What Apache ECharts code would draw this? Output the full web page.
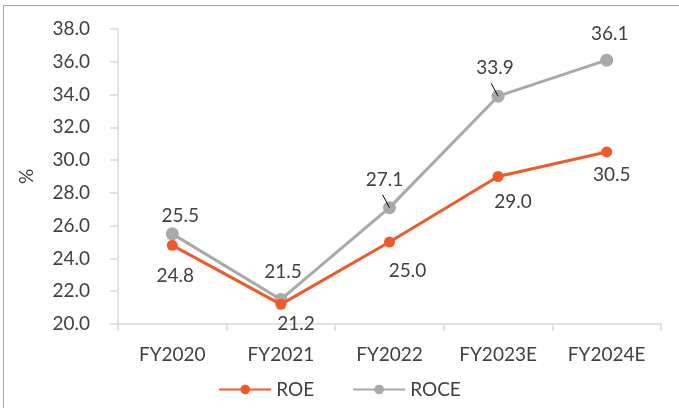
<!DOCTYPE html>
<html>
<head>
<meta charset="utf-8">
<script src="https://cdn.jsdelivr.net/npm/echarts@6/dist/echarts.min.js"></script>
<style>
html,body{margin:0;padding:0;background:#fff;}
#frame{position:absolute;left:3px;top:5px;width:700px;height:420px;border-left:1px solid #a6a6a6;border-top:1px solid #a6a6a6;}
#chart{position:absolute;left:0;top:0;width:679px;height:408px;}
</style>
</head>
<body>
<div id="frame"></div>
<div id="chart"></div>
<script>
var categories = ['FY2020', 'FY2021', 'FY2022', 'FY2023E', 'FY2024E'];
var roe = [24.8, 21.2, 25.0, 29.0, 30.5];
var roce = [25.5, 21.5, 27.1, 33.9, 36.1];
var yTicks = [20, 22, 24, 26, 28, 30, 32, 34, 36, 38];

// label nudges (pixels) to mimic the reference placement
var roeLabelDx = [3, 15, 18, 15, 5];
var roeLabelDy = [5, -6, 3, -1, -3];
var roceLabelDx = [8, 2, -5, -3, 3];
var roceLabelDy = [10, 0, 0, 0, 2];
var roceLeader = [false, false, true, true, false];

var font = 'Lato, "Open Sans", sans-serif';
var fs = 19;
var txt = '#404040';
var axisCol = '#d9d9d9';
var orange = '#ee5a2c';
var grey = '#a9a9a9';

var leaderData = [];
roce.forEach(function (v, i) { if (roceLeader[i]) leaderData.push([i, v]); });

var chart = echarts.init(document.getElementById('chart'));
chart.setOption({
  animation: false,
  textStyle: {fontFamily: font},
  grid: {left: 118, right: 18, top: 29, bottom: 84, containLabel: false},
  legend: {
    bottom: 4, left: 'center',
    itemWidth: 52, itemHeight: 12, itemGap: 38,
    textStyle: {fontFamily: font, fontSize: fs, color: txt},
    data: ['ROE', 'ROCE']
  },
  xAxis: {
    type: 'category', data: categories, boundaryGap: true,
    axisLine: {lineStyle: {color: axisCol, width: 1.5}},
    axisTick: {show: true, length: 7, lineStyle: {color: axisCol, width: 1.5}},
    axisLabel: {fontFamily: font, fontSize: fs, color: txt, margin: 21},
    splitLine: {show: false}
  },
  yAxis: {
    type: 'value', min: yTicks[0], max: yTicks[yTicks.length - 1], interval: 2,
    name: '%', nameLocation: 'middle', nameGap: 82, nameRotate: 90,
    nameTextStyle: {fontFamily: font, fontSize: fs, color: txt},
    axisLine: {show: true, lineStyle: {color: axisCol, width: 1.5}},
    axisTick: {show: true, length: 8, lineStyle: {color: axisCol, width: 1.5}},
    axisLabel: {fontFamily: font, fontSize: fs, color: txt, margin: 28,
      formatter: function (v) { return v.toFixed(1); }},
    splitLine: {show: false}
  },
  series: [
    {
      name: 'ROE', type: 'line', data: roe, z: 3,
      symbol: 'circle', symbolSize: 11,
      itemStyle: {color: orange},
      lineStyle: {color: orange, width: 3},
      label: {show: true, position: 'bottom', distance: 11, fontFamily: font, fontSize: fs, color: txt,
        formatter: function (p) { return p.value.toFixed(1); }},
      labelLayout: function (p) { return {dx: roeLabelDx[p.dataIndex], dy: roeLabelDy[p.dataIndex]}; }
    },
    {
      name: 'ROCE', type: 'line', data: roce, z: 2,
      symbol: 'circle', symbolSize: 13,
      itemStyle: {color: grey},
      lineStyle: {color: grey, width: 3},
      label: {show: true, position: 'top', distance: 12, fontFamily: font, fontSize: fs, color: txt,
        formatter: function (p) { return p.value.toFixed(1); }},
      labelLayout: function (p) { return {dx: roceLabelDx[p.dataIndex], dy: roceLabelDy[p.dataIndex]}; }
    },
    {
      name: 'leader', type: 'custom', data: leaderData, z: 5, silent: true,
      renderItem: function (params, api) {
        var c = api.coord([api.value(0), api.value(1)]);
        return {
          type: 'line',
          shape: {x1: c[0] - 7, y1: c[1] - 13, x2: c[0], y2: c[1]},
          style: {stroke: '#000', lineWidth: 1}
        };
      }
    }
  ]
});
</script>
</body>
</html>
